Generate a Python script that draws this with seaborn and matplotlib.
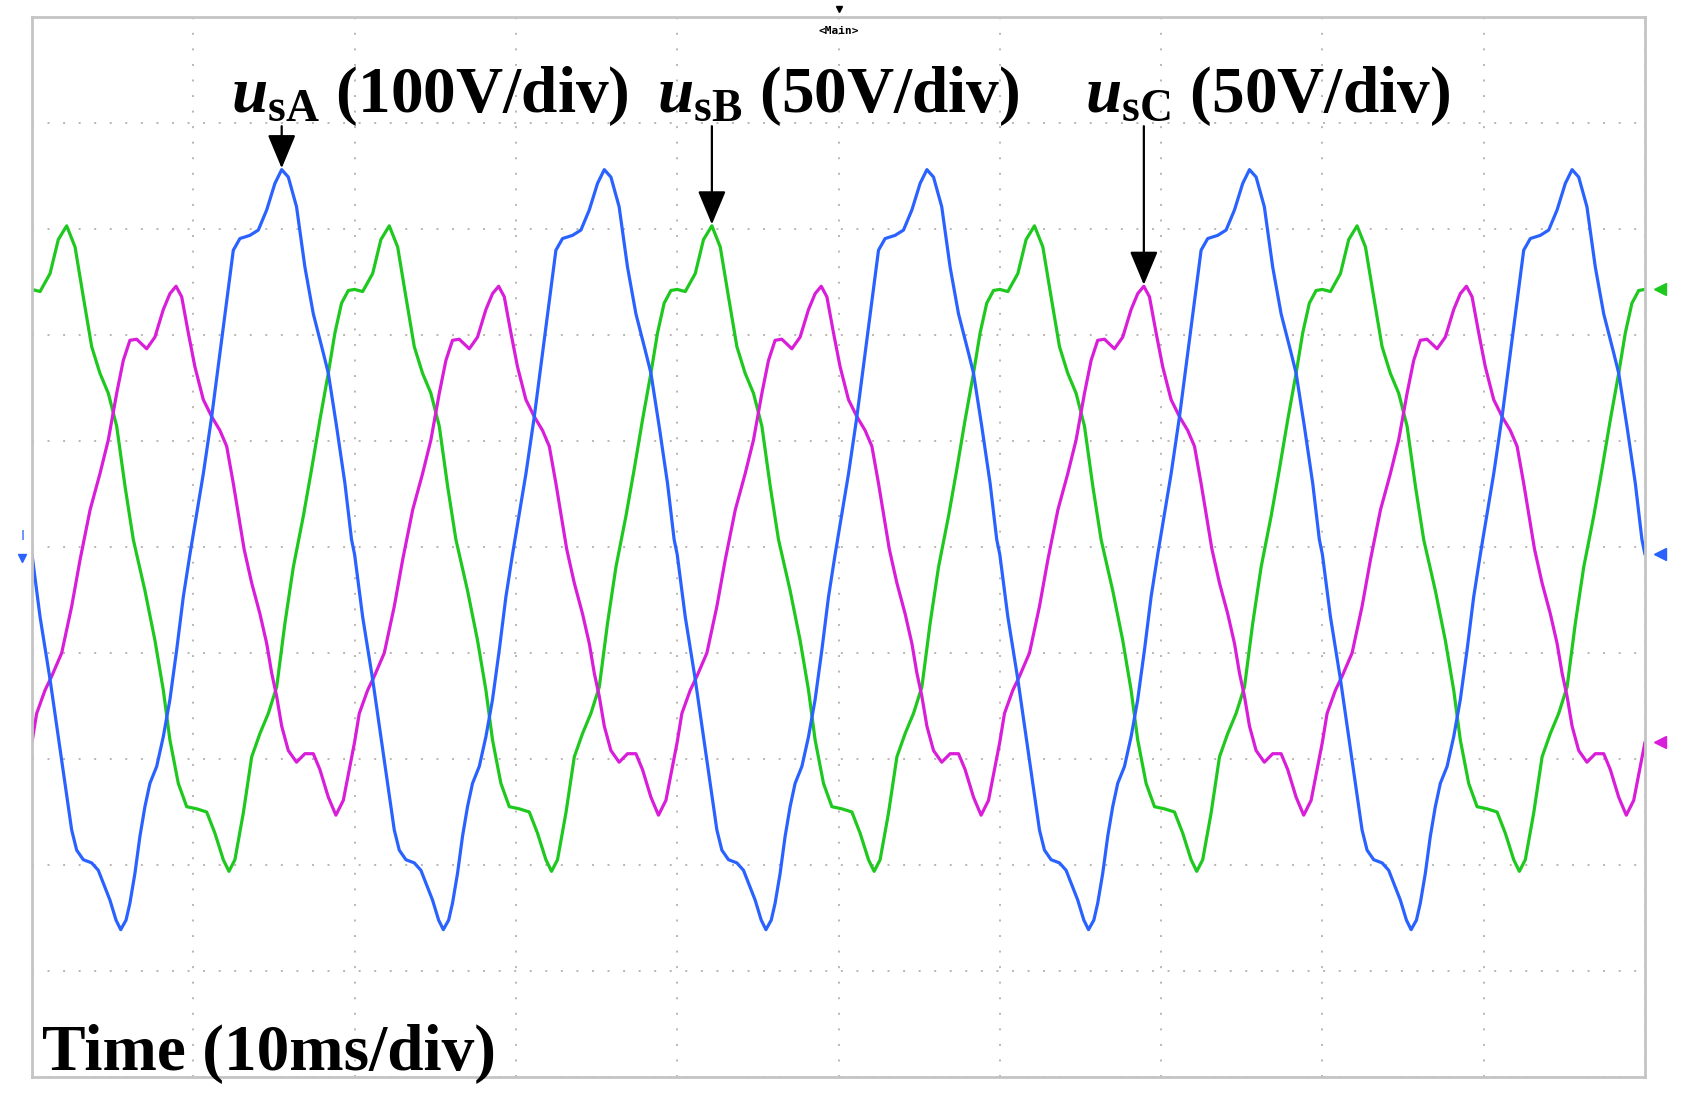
import numpy as np
import pandas as pd
import matplotlib
matplotlib.use("Agg")
import matplotlib.pyplot as plt
import seaborn as sns

# one 20 ms period of each trace (time in ms, value in div)
t_sA = [0.00, 0.50, 1.12, 1.84, 2.46, 2.77, 3.18, 3.70, 4.11, 4.42, 4.83, 5.21, 5.50,
        5.83, 6.07, 6.38, 6.69, 7.00, 7.31, 7.73, 8.14, 8.55, 8.97, 9.38, 9.79,
        10.62, 11.14, 11.65, 12.07, 12.48, 12.89, 13.51, 14.03, 14.55, 15.06, 15.48,
        15.89, 16.40, 16.92, 17.44, 18.06, 18.37, 18.88, 19.40, 19.81]
v_sA = [-0.07, -0.66, -1.25, -2.01, -2.67, -2.86, -2.95, -2.98, -3.05, -3.17, -3.33, -3.52, -3.61,
        -3.52, -3.36, -3.08, -2.73, -2.45, -2.23, -2.07, -1.79, -1.44, -0.97, -0.47, -0.07,
        0.69, 1.23, 1.83, 2.33, 2.80, 2.91, 2.94, 2.99, 3.18, 3.43, 3.56,
        3.49, 3.21, 2.64, 2.20, 1.83, 1.64, 1.14, 0.60, 0.07]

t_sB = [0.00, 0.50, 1.12, 1.63, 2.15, 2.67, 3.18, 3.70, 4.21, 4.73, 5.25, 5.77, 6.28,
        7.00, 7.62, 8.14, 8.55, 9.07, 9.59, 10.21, 10.83, 11.34, 11.86, 12.21, 12.58,
        13.10, 13.62, 14.13, 14.65, 15.17, 15.68, 16.20, 16.82, 17.33, 17.85, 18.37,
        18.78, 19.19, 19.61]
v_sB = [2.43, 2.41, 2.58, 2.90, 3.03, 2.83, 2.36, 1.89, 1.64, 1.45, 1.14, 0.57, 0.07,
        -0.41, -0.88, -1.35, -1.82, -2.23, -2.45, -2.47, -2.50, -2.70, -2.95, -3.06, -2.95,
        -2.51, -1.98, -1.76, -1.57, -1.32, -0.72, -0.19, 0.29, 0.73, 1.20, 1.64,
        2.02, 2.30, 2.42]

t_sC = [0.00, 0.29, 0.81, 1.22, 1.84, 2.46, 2.98, 3.60, 4.21, 4.73, 5.25, 5.66, 6.07,
        6.49, 7.11, 7.62, 8.14, 8.55, 8.93, 9.28, 9.69, 10.10, 10.62, 11.14, 11.65,
        12.07, 12.48, 12.89, 13.15, 13.62, 14.13, 14.55, 14.86, 15.17, 15.48, 15.89,
        16.40, 16.92, 17.44, 17.85, 18.37, 18.84, 19.30, 19.71]
v_sC = [-1.84, -1.57, -1.35, -1.22, -1.00, -0.56, -0.12, 0.35, 0.69, 1.01, 1.45, 1.76, 1.95,
        1.96, 1.87, 1.98, 2.24, 2.39, 2.46, 2.36, 2.02, 1.70, 1.39, 1.23, 1.10,
        0.95, 0.60, 0.22, -0.02, -0.34, -0.63, -0.91, -1.19, -1.41, -1.69, -1.92,
        -2.03, -1.95, -1.95, -2.10, -2.36, -2.53, -2.39, -2.07]

period = 20.0
n_periods = 5
channels = ["usB", "usC", "usA"]
colors = {"usA": "#2a62ff", "usB": "#1ec81e", "usC": "#d81ed8"}
traces = {"usA": (t_sA, v_sA), "usB": (t_sB, v_sB), "usC": (t_sC, v_sC)}

rows = []
for ch in channels:
    tt, vv = traces[ch]
    for k in range(n_periods):
        for t, v in zip(tt, vv):
            rows.append((ch, t + k * period, v))
    rows.append((ch, n_periods * period, vv[0]))
df = pd.DataFrame(rows, columns=["ch", "t", "v"])

sns.set_style("white")
plt.rcParams["text.color"] = "black"
plt.rcParams["mathtext.fontset"] = "custom"
plt.rcParams["mathtext.it"] = "Liberation Serif:italic:bold"
plt.rcParams["mathtext.rm"] = "Liberation Serif:bold"
plt.rcParams["mathtext.bf"] = "Liberation Serif:bold"

W, H = 1684, 1102
fig = plt.figure(figsize=(W / 100, H / 100), dpi=100)
ax = fig.add_axes([32 / W, 1 - 1077 / H, (1645 - 32) / W, (1077 - 17) / H])

sns.lineplot(data=df, x="t", y="v", hue="ch", hue_order=channels, palette=colors,
             estimator=None, sort=False, linewidth=2.3, legend=False, ax=ax)

ax.set_xlim(0, n_periods * period)
ax.set_ylim(-5, 5)
ax.set_xticks(np.arange(0, 101, 10))
ax.set_yticks(np.arange(-5, 6, 1))
ax.tick_params(length=0, labelbottom=False, labelleft=False)
ax.set_xlabel("")
ax.set_ylabel("")
ax.grid(True, color="#bdb3b3", linestyle=(0, (1, 7)), linewidth=1.4)
for s in ax.spines.values():
    s.set_color("#c4c4c4")
    s.set_linewidth(2)

# end-of-trace pointers on the right edge
for ch in channels:
    tt, vv = traces[ch]
    ax.plot([n_periods * period + 0.9], [vv[0]], marker="<", markersize=9,
            color=colors[ch], clip_on=False)
# channel ground marker
ax.text(-0.6, 0.1, "I", color=colors["usA"], fontsize=10, ha="center", va="center",
        clip_on=False)
ax.plot([-0.6], [-0.1], marker="v", markersize=6, color=colors["usA"], clip_on=False)

# trigger marker and <Main>
xc = np.mean(ax.get_xlim())
ax.plot([xc], [5.08], marker="v", markersize=5, color="black", clip_on=False)
ax.text(xc, 4.87, "<Main>", fontsize=8, fontweight="bold", family="DejaVu Sans Mono",
        ha="center", va="center", color="black")

# labels with arrows to the peaks
label_font = dict(fontsize=47, fontweight="bold", family="Liberation Serif", color="black")
labels = [("usA", 0, 12.35, r"$u_{\mathrm{sA}}$ (100V/div)"),
          ("usB", 2, 38.75, r"$u_{\mathrm{sB}}$ (50V/div)"),
          ("usC", 3, 65.3, r"$u_{\mathrm{sC}}$ (50V/div)")]
for ch, k, xt, txt in labels:
    tt, vv = traces[ch]
    i = int(np.argmax(vv))
    tp, vp = tt[i] + k * period, vv[i]
    ax.text(xt, 4.1, txt, ha="left", va="baseline", **label_font)
    ax.annotate("", xy=(tp, vp), xytext=(tp, 3.97),
                arrowprops=dict(arrowstyle="-|>,head_length=0.6,head_width=0.25",
                                color="black", lw=1.6, mutation_scale=35,
                                shrinkA=0, shrinkB=1))

ax.text(0.62, -4.93, "Time (10ms/div)", ha="left", va="baseline", **label_font)

fig.savefig("out.png", dpi=100, facecolor="white")
